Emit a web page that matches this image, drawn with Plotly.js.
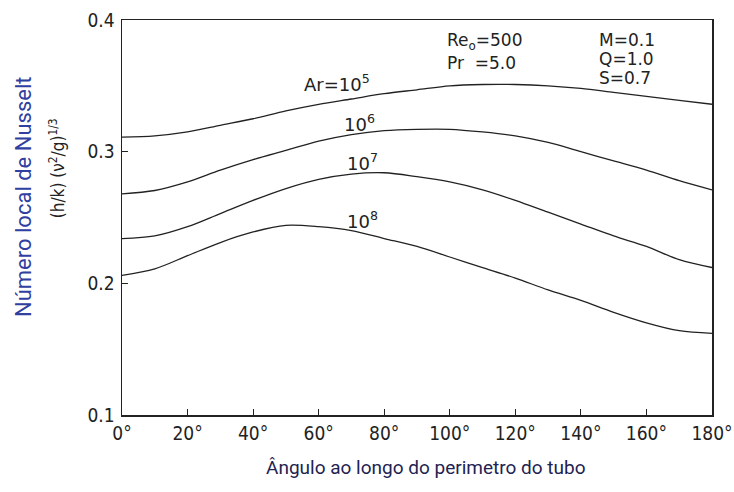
<!DOCTYPE html>
<html>
<head>
<meta charset="utf-8">
<script src="https://cdn.plot.ly/plotly-3.0.1.min.js"></script>
<style>
  html, body { margin: 0; padding: 0; background: #fff; }
  #chart { width: 734px; height: 492px; }
</style>
</head>
<body>
<div id="chart"></div>
<script>
// Angle around the tube perimeter (degrees)
const angle = [0, 10, 20, 30, 40, 50, 60, 70, 80, 90, 100, 110, 120, 130, 140, 150, 160, 170, 180];

// Local Nusselt number (h/k)(v^2/g)^(1/3) for each Archimedes number
const nuAr1e5 = [0.311, 0.312, 0.315, 0.320, 0.325, 0.331, 0.336, 0.340, 0.344, 0.347, 0.350, 0.351, 0.351, 0.350, 0.348, 0.345, 0.342, 0.339, 0.336];
const nuAr1e6 = [0.268, 0.2705, 0.277, 0.286, 0.294, 0.301, 0.308, 0.313, 0.316, 0.317, 0.317, 0.315, 0.312, 0.307, 0.300, 0.293, 0.286, 0.278, 0.271];
const nuAr1e7 = [0.234, 0.236, 0.243, 0.253, 0.263, 0.272, 0.279, 0.283, 0.284, 0.281, 0.277, 0.271, 0.263, 0.254, 0.245, 0.236, 0.228, 0.218, 0.212];
const nuAr1e8 = [0.206, 0.211, 0.221, 0.231, 0.239, 0.244, 0.243, 0.240, 0.234, 0.228, 0.220, 0.212, 0.204, 0.195, 0.187, 0.178, 0.170, 0.164, 0.162];

// Curve labels and their placement (angle, value)
const curveLabels = ['Ar=10<sup>5</sup>', '10<sup>6</sup>', '10<sup>7</sup>', '10<sup>8</sup>'];
const labelAngle = [55, 67, 68, 68];
const labelValue = [0.3415, 0.3115, 0.2815, 0.2375];

// Tick positions and labels
const xTicks = [0, 20, 40, 60, 80, 100, 120, 140, 160, 180];
const xTickText = ['0°', '20°', '40°', '60°', '80°', '100°', '120°', '140°', '160°', '180°'];
const yTicks = [0.1, 0.2, 0.3, 0.4];
const yTickText = ['0.1', '0.2', '0.3', '0.4'];

const ink = '#222';
const tickFont = 'DejaVu Sans Condensed, Liberation Sans Narrow, sans-serif';
const noteFont = 'DejaVu Sans, sans-serif';

const series = [nuAr1e5, nuAr1e6, nuAr1e7, nuAr1e8];
const traces = series.map(v => ({
  x: angle,
  y: v,
  type: 'scatter',
  mode: 'lines',
  line: { color: ink, width: 1.3, shape: 'spline', smoothing: 0.9 },
  hoverinfo: 'skip',
  showlegend: false
}));

const annotations = curveLabels.map((t, i) => ({
  x: labelAngle[i], y: labelValue[i], xref: 'x', yref: 'y',
  text: t, showarrow: false, xanchor: 'left', yanchor: 'bottom',
  font: { family: noteFont, size: 18, color: ink }
}));

// Operating parameters
const params = [
  { t: 'Re<sub>o</sub>=500', x: 98.5, y: 0.394 },
  { t: 'Pr  =5.0', x: 98.5, y: 0.3765 },
  { t: 'M=0.1', x: 145, y: 0.394 },
  { t: 'Q=1.0', x: 145, y: 0.3795 },
  { t: 'S=0.7', x: 145, y: 0.365 }
];
params.forEach(p => annotations.push({
  x: p.x, y: p.y, xref: 'x', yref: 'y', text: p.t, showarrow: false,
  xanchor: 'left', yanchor: 'top',
  font: { family: noteFont, size: 17, color: ink }
}));

// Two-line vertical axis title
annotations.push({
  x: -0.166, y: 0.552, xref: 'paper', yref: 'paper', textangle: -90,
  xanchor: 'center', yanchor: 'middle',
  text: 'Número local de Nusselt', showarrow: false,
  font: { family: 'Roboto, sans-serif', size: 22, color: '#3040a0' }
});
annotations.push({
  x: -0.110, y: 0.625, xref: 'paper', yref: 'paper', textangle: -90,
  xanchor: 'center', yanchor: 'middle',
  text: '(h/k) (\u03BD<sup>2</sup>/g)<sup>1/3</sup>', showarrow: false,
  font: { family: tickFont, size: 17, color: ink }
});

// Horizontal axis title
annotations.push({
  x: 0.515, y: -0.134, xref: 'paper', yref: 'paper',
  xanchor: 'center', yanchor: 'middle',
  text: 'Ângulo ao longo do perimetro do tubo', showarrow: false,
  font: { family: 'Roboto, sans-serif', size: 19, color: '#1e2352' }
});

const layout = {
  width: 734, height: 492,
  margin: { l: 122, r: 22, t: 20, b: 77 },
  paper_bgcolor: '#fff', plot_bgcolor: '#fff',
  xaxis: {
    range: [0, 180], tickvals: xTicks, ticktext: xTickText,
    showgrid: false, zeroline: false,
    showline: true, mirror: true, linecolor: ink, linewidth: 1.5,
    ticks: 'inside', ticklen: 6, tickcolor: ink, tickwidth: 1,
    ticklabelstandoff: 1,
    tickfont: { family: tickFont, size: 19, color: ink }
  },
  yaxis: {
    range: [0.1, 0.4], tickvals: yTicks, ticktext: yTickText,
    showgrid: false, zeroline: false,
    showline: true, mirror: true, linecolor: ink, linewidth: 1.5,
    ticks: 'inside', ticklen: 6, tickcolor: ink, tickwidth: 1,
    ticklabelstandoff: 2,
    tickfont: { family: tickFont, size: 19, color: ink }
  },
  annotations: annotations
};

Plotly.newPlot('chart', traces, layout, { displayModeBar: false, staticPlot: true });
</script>
</body>
</html>
